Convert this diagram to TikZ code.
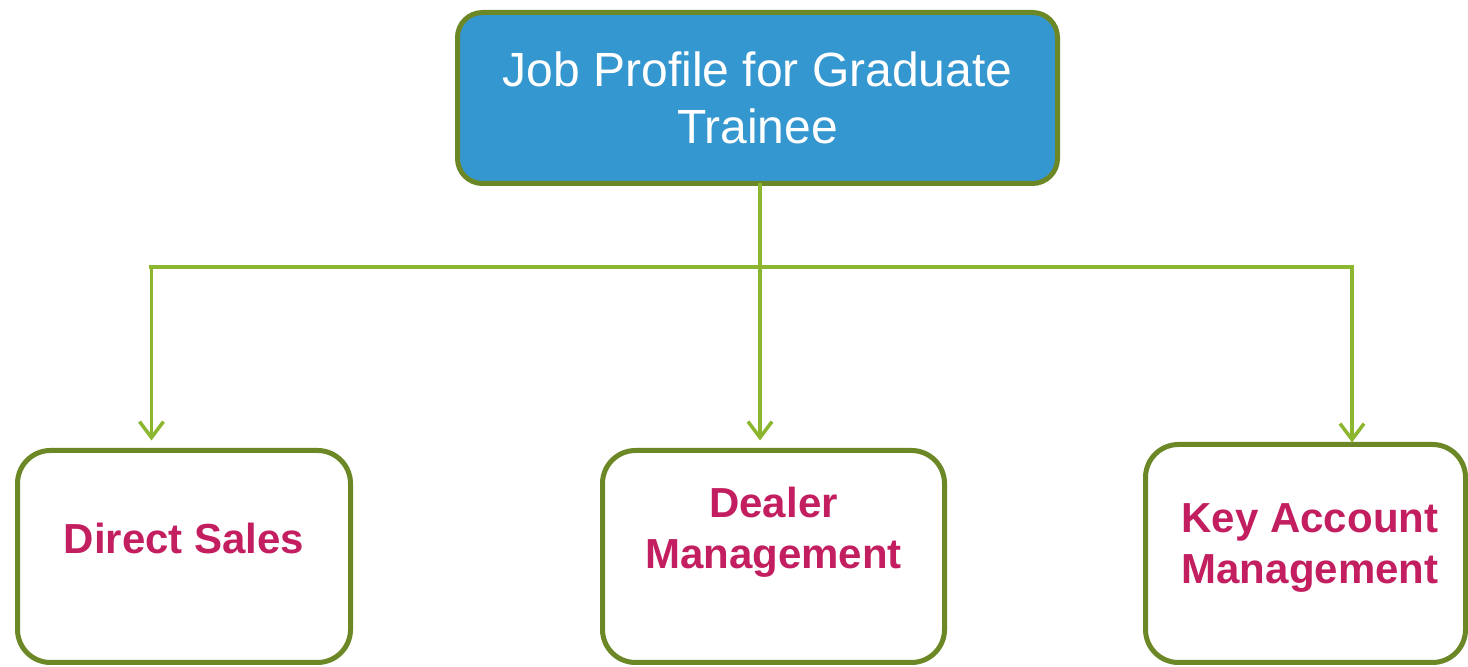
\documentclass[tikz,border=0pt]{standalone}
\usepackage{fontspec}
\setmainfont{Liberation Sans}
\usetikzlibrary{arrows.meta}
\definecolor{boxblue}{RGB}{53,151,208}
\definecolor{boxolive}{RGB}{107,135,38}
\definecolor{linkgreen}{RGB}{141,182,48}
\definecolor{labelpink}{RGB}{194,30,96}
\tikzset{
  headbox/.style={draw=boxolive,line width=5bp,fill=boxblue,rounded corners=25bp,
    inner sep=0pt,outer sep=0pt,text=white,align=center,
    font=\fontsize{48bp}{57bp}\selectfont},
  rolebox/.style={draw=boxolive,line width=5bp,fill=white,rounded corners=33bp,
    inner sep=0pt,outer sep=0pt},
  roletext/.style={text=labelpink,align=center,inner sep=0pt,
    font=\bfseries\fontsize{42bp}{51bp}\selectfont},
  link/.style={draw=linkgreen,line width=3.5bp},
  linkarrow/.style={link,-{Straight Barb[length=16bp,width=24bp,line width=3.5bp]}}
}
\begin{document}
\begin{tikzpicture}
  \useasboundingbox (0bp,0bp) rectangle (1468bp,667bp);
  \node (Head) at (757.5bp,569.0bp) [headbox,minimum width=600bp,minimum height=171bp] {Job Profile for Graduate\\Trainee};
  \node (Direct) at (184.0bp,110.5bp) [rolebox,minimum width=333bp,minimum height=212bp] {};
  \node (Dealer) at (773.5bp,110.5bp) [rolebox,minimum width=342bp,minimum height=212bp] {};
  \node (KeyAcc) at (1305.5bp,113.5bp) [rolebox,minimum width=320bp,minimum height=218bp] {};
  \node (DirectText) at (184.0bp,128.5bp) [roletext] {Direct Sales};
  \node (DealerText) at (773.5bp,135.0bp) [roletext] {Dealer\\Management};
  \node (KeyAccText) at (1310.0bp,119.0bp) [roletext] {Key Account\\Management};
  \coordinate (busL) at (151.5bp,400.0bp);
  \coordinate (busM) at (760.0bp,400.0bp);
  \coordinate (busR) at (1352.0bp,400.0bp);
  \draw [link] ([xshift=-3bp]busL) -- ([xshift=1.75bp]busR);
  \draw [linkarrow,shorten >=10bp] (Head.south -| busM) -- (busM |- Dealer.north);
  \draw [linkarrow,shorten >=10bp] (busL) -- (busL |- Direct.north);
  \draw [linkarrow,shorten >=2bp] (busR) -- (busR |- KeyAcc.north);
\end{tikzpicture}
\end{document}
